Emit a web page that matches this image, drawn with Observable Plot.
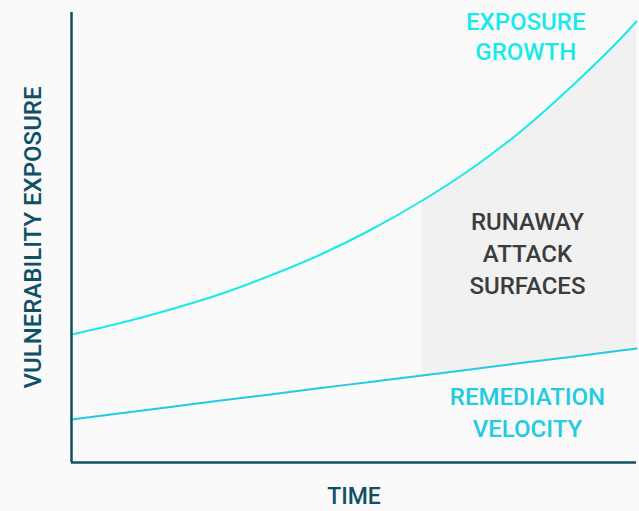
<!DOCTYPE html>
<html>
<head>
<meta charset="utf-8">
<script src="https://cdn.jsdelivr.net/npm/d3@7"></script>
<script src="https://cdn.jsdelivr.net/npm/@observablehq/plot@0.6"></script>
<style>
  html, body { margin: 0; padding: 0; background: #fafafa; }
  #chart svg { display: block; }
</style>
</head>
<body>
<div id="chart"></div>
<script>
// Time samples (abstract units 0..10)
const time = [0, 0.87, 1.75, 2.64, 3.52, 4.41, 5.29, 6.21, 7.06, 7.95, 8.83, 9.72, 10];
// Exposure growth (abstract exposure units)
const exposure = [128, 139.5, 153, 168.5, 187, 208, 232.5, 262, 293, 331, 375, 424, 441];
// Remediation velocity
const remediation = [43, 49.3, 55.6, 61.9, 68.1, 74.4, 80.6, 87.1, 93.1, 99.4, 105.6, 111.9, 113.9];
// Start of runaway zone
const runawayStart = 6.21;

const labels = {
  exposure: "EXPOSURE\nGROWTH",
  runaway: "RUNAWAY\nATTACK\nSURFACES",
  remediation: "REMEDIATION\nVELOCITY",
  xAxis: "TIME",
  yAxis: "VULNERABILITY EXPOSURE"
};

const rows = time.map((t, i) => ({t, exposure: exposure[i], remediation: remediation[i]}));
const runaway = rows.filter(d => d.t >= runawayStart);

const axisColor = "#0e5066";
const font = "Roboto, 'Noto Sans', sans-serif";

const chart = Plot.plot({
  width: 639,
  height: 511,
  marginLeft: 71,
  marginRight: 3,
  marginTop: 12,
  marginBottom: 49,
  style: {background: "#fafafa", fontFamily: font},
  x: {domain: [0, 10], axis: null},
  y: {domain: [0, 450], axis: null},
  marks: [
    Plot.areaY(runaway, {x: "t", y1: "remediation", y2: "exposure", fill: "#f1f1f1", curve: "monotone-x"}),
    Plot.line(rows, {x: "t", y: "exposure", stroke: "#18eaec", strokeWidth: 2, curve: "monotone-x"}),
    Plot.line(rows, {x: "t", y: "remediation", stroke: "#22cbe2", strokeWidth: 2, curve: "monotone-x"}),
    Plot.ruleX([0], {stroke: axisColor, strokeWidth: 2.5}),
    Plot.ruleY([0], {stroke: axisColor, strokeWidth: 2.5}),
    Plot.text([labels.exposure], {x: 8.04, y: 425, dy: -2, text: d => d, fill: "#18eaec", fontSize: 24, fontWeight: 500, lineHeight: 1.25, lineAnchor: "middle", textAnchor: "middle"}),
    Plot.text([labels.runaway], {x: 8.07, y: 208, dy: -3, text: d => d, fill: "#3c3c3c", fontSize: 24, fontWeight: 500, lineHeight: 1.33, lineAnchor: "middle", textAnchor: "middle"}),
    Plot.text([labels.remediation], {x: 8.07, y: 49, dy: -3, text: d => d, fill: "#22cbe2", fontSize: 24, fontWeight: 500, lineHeight: 1.33, lineAnchor: "middle", textAnchor: "middle"}),
    Plot.text([labels.xAxis], {frameAnchor: "bottom", dy: 41, text: d => d, fill: axisColor, fontSize: 23, fontWeight: 500}),
    Plot.text([labels.yAxis], {frameAnchor: "left", dx: -38, rotate: -90, textAnchor: "middle", text: d => d, fill: axisColor, fontSize: 24, fontWeight: 500})
  ]
});
document.getElementById("chart").append(chart);
</script>
</body>
</html>
